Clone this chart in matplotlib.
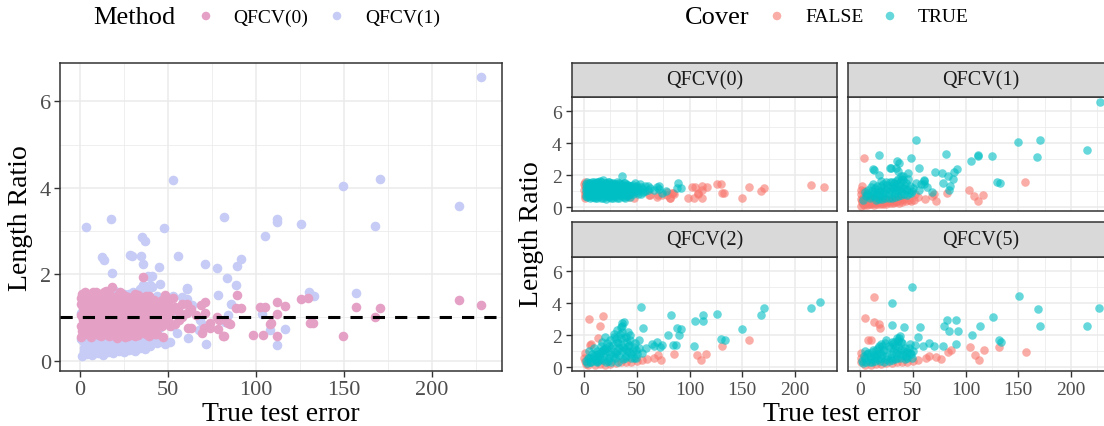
import matplotlib
matplotlib.use("Agg")
import matplotlib.pyplot as plt

plt.rcParams['font.family'] = ['Liberation Serif', 'DejaVu Serif']

# ---------------- data ----------------
methods = ["QFCV(0)", "QFCV(1)", "QFCV(2)", "QFCV(5)"]
cover_levels = ["FALSE", "TRUE"]
x_ticks = [0, 50, 100, 150, 200]
y_ticks = [0, 2, 4, 6]
ref_ratio = 1.0

# QFCV(0)
q0_true_err = [3, 3, 3, 3, 3, 6, 6, 6, 6, 6, 9, 9, 9, 9, 9, 12, 12, 12, 12, 12,
               15, 15, 15, 15, 15, 18, 18, 18, 18, 18, 21, 21, 21, 21, 21,
               24, 24, 24, 24, 24, 27, 27, 27, 27, 27, 30, 30, 30, 30,
               33, 33, 33, 33, 33, 36, 36, 36, 36, 36, 39, 39, 39, 39, 39,
               42, 42, 42, 42, 45, 45, 45, 48, 48, 48, 51, 51, 51, 53, 56, 56,
               61, 61, 63, 69, 71, 71, 74, 77.6, 89.4, 88.6, 91.5,
               4.5, 7.5, 10.5, 13.5, 16.5, 19.5, 22.5, 25.5, 28.5, 31.5, 34.5,
               37.5, 40.5, 43.5, 46.5,
               1.5, 1.5, 1.5, 1.5, 4.5, 4.5, 4.5, 7.5, 7.5, 7.5, 7.5,
               10.5, 10.5, 10.5, 10.5, 13.5, 13.5, 13.5, 13.5, 16.5, 16.5, 16.5,
               16.5, 19.5, 19.5, 19.5, 22.5, 22.5, 22.5, 22.5, 25.5, 25.5, 25.5,
               25.5, 28.5, 28.5, 28.5, 31.5, 31.5, 31.5, 31.5, 34.5, 34.5, 34.5,
               37.5, 37.5, 37.5, 37.5, 40.5, 40.5, 40.5, 43.5, 43.5, 43.5,
               46.5, 46.5, 50, 50, 54, 54, 58, 58, 66]
q0_true_ratio = [0.62, 0.85, 1.10, 1.35, 1.58, 0.55, 0.78, 1.02, 1.25, 1.48,
                 0.66, 0.92, 1.18, 1.42, 1.60, 0.58, 0.83, 1.07, 1.30, 1.55,
                 0.70, 0.95, 1.20, 1.45, 1.62, 0.60, 0.86, 1.10, 1.35, 1.70,
                 0.52, 0.76, 1.00, 1.25, 1.50, 0.65, 0.90, 1.15, 1.40, 1.55,
                 0.57, 0.80, 1.05, 1.30, 1.48, 0.68, 0.93, 1.18, 1.42,
                 0.60, 0.85, 1.10, 1.35, 1.52, 0.72, 0.98, 1.22, 1.45, 1.93,
                 0.58, 0.84, 1.08, 1.30, 1.50, 0.75, 1.00, 1.25, 1.40,
                 0.90, 1.15, 1.30, 1.00, 1.25, 1.52, 0.80, 1.10, 1.20, 1.46,
                 0.95, 1.12, 1.32, 1.10, 1.20, 1.29, 1.35, 1.11, 0.88, 1.00,
                 1.53, 1.22, 1.22,
                 0.72, 1.38, 0.98, 1.12, 0.82, 1.48, 0.68, 1.28, 0.96, 1.55,
                 0.74, 1.49, 1.15, 0.62, 1.05,
                 0.72, 0.98, 1.22, 1.47, 0.95, 1.20, 1.50, 0.65, 0.90, 1.15,
                 1.58, 0.60, 0.78, 1.28, 1.52, 0.68, 0.90, 1.38, 1.60, 0.58,
                 1.05, 1.30, 1.55, 0.70, 0.95, 1.20, 0.88, 1.12, 1.38, 1.58,
                 0.55, 0.78, 1.02, 1.50, 0.68, 1.20, 1.42, 0.58, 0.80, 1.05,
                 1.30, 0.98, 1.20, 1.45, 0.62, 0.86, 1.10, 1.30, 0.68, 0.92,
                 1.38, 0.85, 1.10, 1.30, 0.80, 1.40, 0.95, 1.35, 0.85, 1.25,
                 1.00, 1.30, 1.05]
q0_false_err = [0.5, 0.8, 0.3, 0.6, 1.0, 1.2, 0.4, 1.5, 42.6, 47.3, 61.5, 63,
                69.1, 70.5, 78.8, 81.8, 84.3, 83.3, 85.2, 74, 78.6, 81.4, 98.5,
                102, 104.9, 108, 108.3, 111.7, 111.7, 111.7, 116.5, 103.8,
                125.6, 129.7, 130.7, 132.5, 149.6, 156.6, 167.8, 170.5, 215.5,
                227.6]
q0_false_ratio = [0.55, 0.80, 1.05, 1.30, 1.55, 0.68, 1.45, 0.95, 0.62, 0.55,
                  0.75, 0.75, 0.63, 0.75, 0.95, 0.58, 0.87, 0.89, 0.85, 0.75,
                  0.74, 0.58, 0.60, 1.24, 1.23, 0.85, 0.87, 1.35, 1.08, 0.58,
                  1.26, 0.60, 1.43, 1.45, 0.87, 0.87, 0.58, 1.25, 1.02, 1.22,
                  1.40, 1.28]

# QFCV(1)
q1_true_err = [17.6, 53, 47.9, 81.8, 12.3, 13.6, 18.4, 28.4, 29.4, 34.5, 35.6,
               35, 37, 45.1, 55.9, 38.8, 40.7, 39.8, 45.5, 60.6, 61, 57.8, 61,
               63.4, 71, 77.7, 83.3, 88.6, 89.4, 91.7, 78.6, 85.6, 84.3, 68.2,
               104.9, 111.7, 111.7, 125.4, 130.3, 133, 149.6, 167.8, 170.5,
               215.5, 227.6,
               6, 9, 12, 15, 18, 21, 24, 27, 30, 33, 36, 39, 42, 45, 8, 11, 14,
               17, 20, 23, 26, 29, 32, 35, 38, 41, 44, 47, 50, 25, 20, 30, 34,
               36, 53, 56, 12, 5, 24, 30, 36, 42, 48, 18, 33,
               3, 7, 10, 13, 16, 19, 22, 25, 28, 31, 34, 37, 40, 43, 46, 49,
               15, 21, 27, 33, 39, 45, 10, 16, 22, 28]
q1_true_ratio = [3.28, 4.19, 3.06, 3.32, 2.39, 2.34, 2.03, 2.45, 2.43, 2.42, 2.24,
                 2.86, 2.78, 2.16, 2.43, 1.97, 1.96, 1.74, 1.78, 1.68, 1.65,
                 1.47, 1.42, 1.29, 2.23, 2.15, 1.92, 1.76, 2.20, 2.36, 1.53,
                 1.31, 1.06, 0.93, 2.88, 3.29, 3.22, 3.17, 1.60, 1.49, 4.05,
                 3.11, 4.20, 3.59, 6.57,
                 0.70, 0.60, 0.75, 0.65, 0.85, 0.70, 0.90, 0.80, 1.00, 0.90,
                 1.10, 1.00, 1.20, 1.10, 1.10, 1.00, 1.20, 1.10, 1.30, 1.20,
                 1.40, 1.30, 1.50, 1.45, 1.60, 1.70, 1.50, 1.30, 1.20, 1.55,
                 1.62, 1.60, 1.65, 1.75, 1.50, 1.10, 1.45, 0.95, 0.55, 0.60,
                 0.70, 0.80, 0.90, 0.50, 1.25,
                 0.45, 0.85, 0.70, 0.95, 0.90, 1.00, 0.95, 1.10, 1.05, 1.20,
                 1.10, 1.30, 1.20, 1.35, 0.90, 1.00, 0.45, 0.50, 0.60, 0.65,
                 0.75, 0.75, 1.25, 1.35, 1.45, 1.55]
q1_false_err = [3.4, 1, 4, 7, 10, 13, 16, 19, 22, 25, 28, 31, 34, 37, 40, 44, 48,
                51, 2, 5, 8, 11, 14, 17, 20, 23, 26, 29, 32, 35, 38, 0.5, 1, 0.5,
                3, 2, 4, 7, 55, 52, 61.5, 71.6, 67.8, 82.4, 70, 103.6, 108,
                111.7, 116.6, 156.6,
                2.5, 5.5, 8.5, 11.5, 14.5, 17.5, 20.5, 23.5, 26.5, 29.5, 32.5,
                35.5, 38.5, 42, 46, 1.5, 4, 9, 13]
q1_false_ratio = [3.09, 0.10, 0.15, 0.12, 0.18, 0.14, 0.20, 0.17, 0.22, 0.19,
                  0.25, 0.23, 0.30, 0.28, 0.35, 0.40, 0.38, 0.42, 0.30, 0.35,
                  0.28, 0.40, 0.33, 0.45, 0.38, 0.48, 0.42, 0.50, 0.45, 0.55,
                  0.50, 0.50, 0.80, 1.10, 0.60, 1.30, 1.00, 0.45, 0.65, 0.80,
                  0.52, 0.39, 0.72, 0.89, 0.83, 1.07, 0.70, 0.37, 0.74, 1.57,
                  0.22, 0.25, 0.20, 0.28, 0.25, 0.30, 0.28, 0.35, 0.30, 0.38,
                  0.35, 0.40, 0.42, 0.48, 0.45, 0.45, 0.55, 0.50, 0.55]

# QFCV(2)
q2_true_err = [53.6, 224, 215.5, 170.4, 167.8, 149.3, 125.9, 112.8, 112.8, 104.8,
               104.2, 130.3, 133.4, 82.2, 88.5, 92.3, 90, 79.4, 84, 87, 73.5,
               64.5, 66, 69, 72, 59, 52, 55.8, 36.4, 35, 37.5,
               2, 4, 6, 8, 10, 12, 14, 16, 18, 20, 22, 24, 26, 28, 30, 32, 34,
               36, 38, 40, 42, 44, 46, 48, 50, 52, 55, 5, 9, 13, 17, 21, 25, 29,
               33, 37, 41, 45, 49, 20, 28, 31, 35.6, 41.7, 43.5, 15, 7, 11, 19,
               23, 27, 31, 35, 39, 43, 47,
               3, 5, 7, 9, 11, 13, 15, 17, 19, 21, 23, 25, 27, 29, 31, 33, 35,
               37, 39, 41, 43, 45, 47, 49, 24, 30, 36, 40, 18, 12, 26, 32]
q2_true_ratio = [3.79, 4.10, 3.68, 3.68, 3.28, 2.38, 3.30, 3.24, 2.90, 2.86,
                 1.32, 1.77, 1.72, 3.26, 2.48, 2.39, 2.00, 2.03, 1.40, 1.40,
                 1.40, 1.45, 1.30, 1.55, 1.25, 1.20, 1.67, 2.48, 2.75, 2.50,
                 2.85,
                 0.40, 0.60, 0.35, 0.80, 0.50, 1.00, 0.70, 1.30, 0.45, 0.90,
                 1.50, 0.60, 1.20, 1.90, 0.80, 1.50, 2.10, 1.00, 1.80, 0.70,
                 1.30, 2.00, 1.00, 1.50, 0.80, 1.20, 0.90, 1.00, 1.20, 0.40,
                 1.60, 0.35, 1.70, 0.55, 1.20, 0.50, 1.60, 0.60, 1.10, 1.90,
                 2.10, 2.30, 2.60, 2.20, 1.70, 0.90, 0.55, 0.75, 1.15, 1.00,
                 0.70, 1.00, 1.40, 1.15, 0.95, 0.55,
                 0.25, 0.55, 0.30, 0.70, 0.40, 0.85, 0.50, 1.00, 0.65, 1.20,
                 0.40, 0.85, 1.40, 0.95, 1.60, 0.75, 1.85, 1.25, 0.55, 1.00,
                 1.40, 0.80, 1.25, 0.60, 1.30, 1.80, 2.20, 1.90, 1.10, 0.30,
                 0.30, 0.35]
q2_false_err = [5, 18.4, 15, 13.4, 5.5, 7, 0.5, 0.3, 0.8, 1.5, 156.8, 130.7,
                107.3, 110.7, 115.7, 85.7, 66.7, 72.9, 70, 60, 10, 15, 20, 25,
                30, 35, 40, 45, 50, 55, 4]
q2_false_ratio = [3.00, 3.20, 2.60, 1.85, 1.36, 1.47, 0.90, 0.60, 0.40, 0.20,
                  1.70, 1.35, 0.75, 0.45, 0.83, 0.85, 0.57, 0.42, 0.75, 0.50,
                  0.15, 0.20, 0.15, 0.22, 0.25, 0.30, 0.30, 0.35, 0.40, 0.45,
                  0.12]

# QFCV(5)
q5_true_err = [49.5, 150.5, 168.5, 171, 215, 226.7, 126.5, 113.4, 106.5, 131.4,
               134, 29.9, 30.5, 57.3, 41.7, 82.9, 90.7, 79.8, 84.4, 93.2, 55,
               90.7, 78.5, 65, 70, 60, 52, 47, 35,
               2, 4, 6, 8, 10, 12, 14, 16, 18, 20, 22, 24, 26, 28, 30, 32, 34,
               36, 38, 40, 42, 44, 46, 48, 50, 25, 5, 9, 13, 17, 21, 27, 31, 35,
               39, 43, 11, 19, 23, 29, 33, 37, 15, 45,
               3, 5, 7, 9, 11, 13, 15, 17, 19, 21, 23, 25, 27, 29, 31, 33, 35,
               37, 39, 41, 43, 45, 47, 49, 36, 38, 30, 20]
q5_true_ratio = [4.99, 4.42, 3.64, 2.57, 2.57, 3.70, 3.16, 2.57, 2.00, 1.68,
                 1.60, 4.00, 2.66, 2.51, 2.51, 2.93, 2.93, 2.57, 2.26, 2.26,
                 1.87, 1.42, 1.30, 1.50, 1.35, 1.30, 1.40, 1.45, 1.85,
                 0.40, 0.70, 0.30, 0.90, 0.50, 1.10, 0.40, 0.80, 1.30, 0.55,
                 1.00, 1.50, 0.70, 1.20, 0.45, 1.60, 0.90, 1.30, 0.60, 1.50,
                 1.00, 0.70, 1.20, 0.80, 1.00, 1.70, 1.00, 0.65, 0.75, 0.50,
                 1.30, 0.40, 1.00, 0.60, 1.10, 0.50, 0.30, 0.90, 0.35, 0.80,
                 1.30, 1.80, 1.10, 0.95,
                 0.25, 0.55, 0.80, 0.35, 0.95, 0.55, 0.70, 1.20, 0.40, 0.75,
                 1.10, 0.50, 1.30, 0.60, 1.45, 0.50, 1.10, 0.80, 1.55, 0.75,
                 1.20, 0.55, 0.90, 0.60, 1.65, 1.95, 1.60, 1.45]
q5_false_err = [13.7, 5, 13.7, 18.4, 19.3, 7.8, 10, 83.8, 86.3, 62.9, 72, 76.7,
                104.7, 109, 113, 117.6, 131.4, 157.3, 5, 15, 25, 35, 45, 55,
                0.5, 1, 0.5, 10, 20, 30, 40, 50, 65]
q5_false_ratio = [4.36, 3.10, 2.84, 2.73, 2.47, 1.68, 1.68, 0.95, 1.05, 0.55,
                  0.62, 0.50, 1.27, 0.75, 0.42, 1.10, 1.27, 0.97, 0.15, 0.20,
                  0.25, 0.30, 0.35, 0.45, 0.60, 0.90, 0.30, 0.12, 0.18, 0.28,
                  0.32, 0.40, 0.70]

facet_data = {
    "QFCV(0)": (q0_true_err, q0_true_ratio, q0_false_err, q0_false_ratio),
    "QFCV(1)": (q1_true_err, q1_true_ratio, q1_false_err, q1_false_ratio),
    "QFCV(2)": (q2_true_err, q2_true_ratio, q2_false_err, q2_false_ratio),
    "QFCV(5)": (q5_true_err, q5_true_ratio, q5_false_err, q5_false_ratio),
}

# ---------------- style ----------------
col_q0 = "#E5A0C6"
col_q1 = "#C6CCF5"
col_false = "#F8766D"
col_true = "#00BFC4"
W, H = 1104, 427
XLIM = (-11.4, 239.8)
YLIM = (-0.24, 6.89)

fig = plt.figure(figsize=(W / 100, H / 100), dpi=100)


def frac(x0, y0, x1, y1):
    return [x0 / W, 1 - y1 / H, (x1 - x0) / W, (y1 - y0) / H]


def style(ax, labelsize, pad, show_x=True, show_y=True):
    ax.set_facecolor("white")
    for s in ax.spines.values():
        s.set_color("#333333")
        s.set_linewidth(1.1)
    ax.set_xlim(*XLIM)
    ax.set_ylim(*YLIM)
    ax.set_xticks(x_ticks)
    ax.set_yticks(y_ticks)
    ax.set_xticks([25, 75, 125, 175, 225], minor=True)
    ax.set_yticks([1, 3, 5], minor=True)
    ax.grid(which="major", color="#EBEBEB", lw=1.1)
    ax.grid(which="minor", color="#EBEBEB", lw=0.55)
    ax.set_axisbelow(True)
    ax.tick_params(which="major", length=4, width=1, color="#333333",
                   labelcolor="#4D4D4D", labelsize=labelsize, pad=pad)
    ax.tick_params(which="minor", length=0)
    if not show_x:
        ax.tick_params(axis="x", which="major", length=0, labelbottom=False)
    if not show_y:
        ax.tick_params(axis="y", which="major", length=0, labelleft=False)


# left panel
axL = fig.add_axes(frac(60, 64, 502, 372))
style(axL, 16, 2.5)
axL.scatter(q1_true_err + q1_false_err, q1_true_ratio + q1_false_ratio,
            s=48, color=col_q1, linewidths=0, zorder=2)
axL.scatter(q0_true_err + q0_false_err, q0_true_ratio + q0_false_ratio,
            s=48, color=col_q0, linewidths=0, zorder=3)
axL.axhline(ref_ratio, color="black", lw=2.2, ls=(0, (4, 3.3)), zorder=4)

# facets
col_x = [(572, 837), (848, 1113)]
row_y = [((64, 98), (98, 212)), ((223, 258), (258, 372))]
for i, m in enumerate(methods):
    r, c = divmod(i, 2)
    (sy0, sy1), (py0, py1) = row_y[r]
    x0, x1 = col_x[c]
    ax = fig.add_axes(frac(x0, py0, x1, py1))
    style(ax, 14, 3.5, show_x=(r == 1), show_y=(c == 0))
    te, tr, fe, fr = facet_data[m]
    ax.scatter(fe, fr, s=38, color=col_false, alpha=0.6, linewidths=0, zorder=2)
    ax.scatter(te, tr, s=38, color=col_true, alpha=0.6, linewidths=0, zorder=3)
    sax = fig.add_axes(frac(x0, sy0, x1, sy1))
    sax.set_xticks([])
    sax.set_yticks([])
    sax.set_facecolor("#D9D9D9")
    for s in sax.spines.values():
        s.set_color("#333333")
        s.set_linewidth(1.1)
    sax.text(0.5, 0.5, m, ha="center", va="center", fontsize=14.5,
             color="#1A1A1A", transform=sax.transAxes)

# overlay for legends and axis titles (pixel coordinates)
ov = fig.add_axes([0, 0, 1, 1], zorder=10)
ov.set_xlim(0, W)
ov.set_ylim(H, 0)
ov.axis("off")
ov.patch.set_alpha(0)

ov.text(93, 18, "Method", fontsize=19, ha="left", va="center", color="black")
ov.scatter([206, 337], [17, 17], s=38, color=[col_q0, col_q1], linewidths=0)
ov.text(233, 18, methods[0], fontsize=14, ha="left", va="center")
ov.text(365, 18, methods[1], fontsize=14, ha="left", va="center")

ov.text(685, 18, "Cover", fontsize=19, ha="left", va="center", color="black")
ov.scatter([777, 890], [17, 17], s=38, color=[col_false, col_true], alpha=0.6,
           linewidths=0)
ov.text(805, 18, cover_levels[0], fontsize=14, ha="left", va="center")
ov.text(918, 18, cover_levels[1], fontsize=14, ha="left", va="center")

ov.text(21, 218, "Length Ratio", fontsize=20, rotation=90, ha="center",
        va="center")
ov.text(531, 234, "Length Ratio", fontsize=20, rotation=90, ha="center",
        va="center")
ov.text(281, 421, "True test error", fontsize=20, ha="center", va="baseline")
ov.text(842, 421, "True test error", fontsize=20, ha="center", va="baseline")

fig.savefig("out.png", dpi=100)
